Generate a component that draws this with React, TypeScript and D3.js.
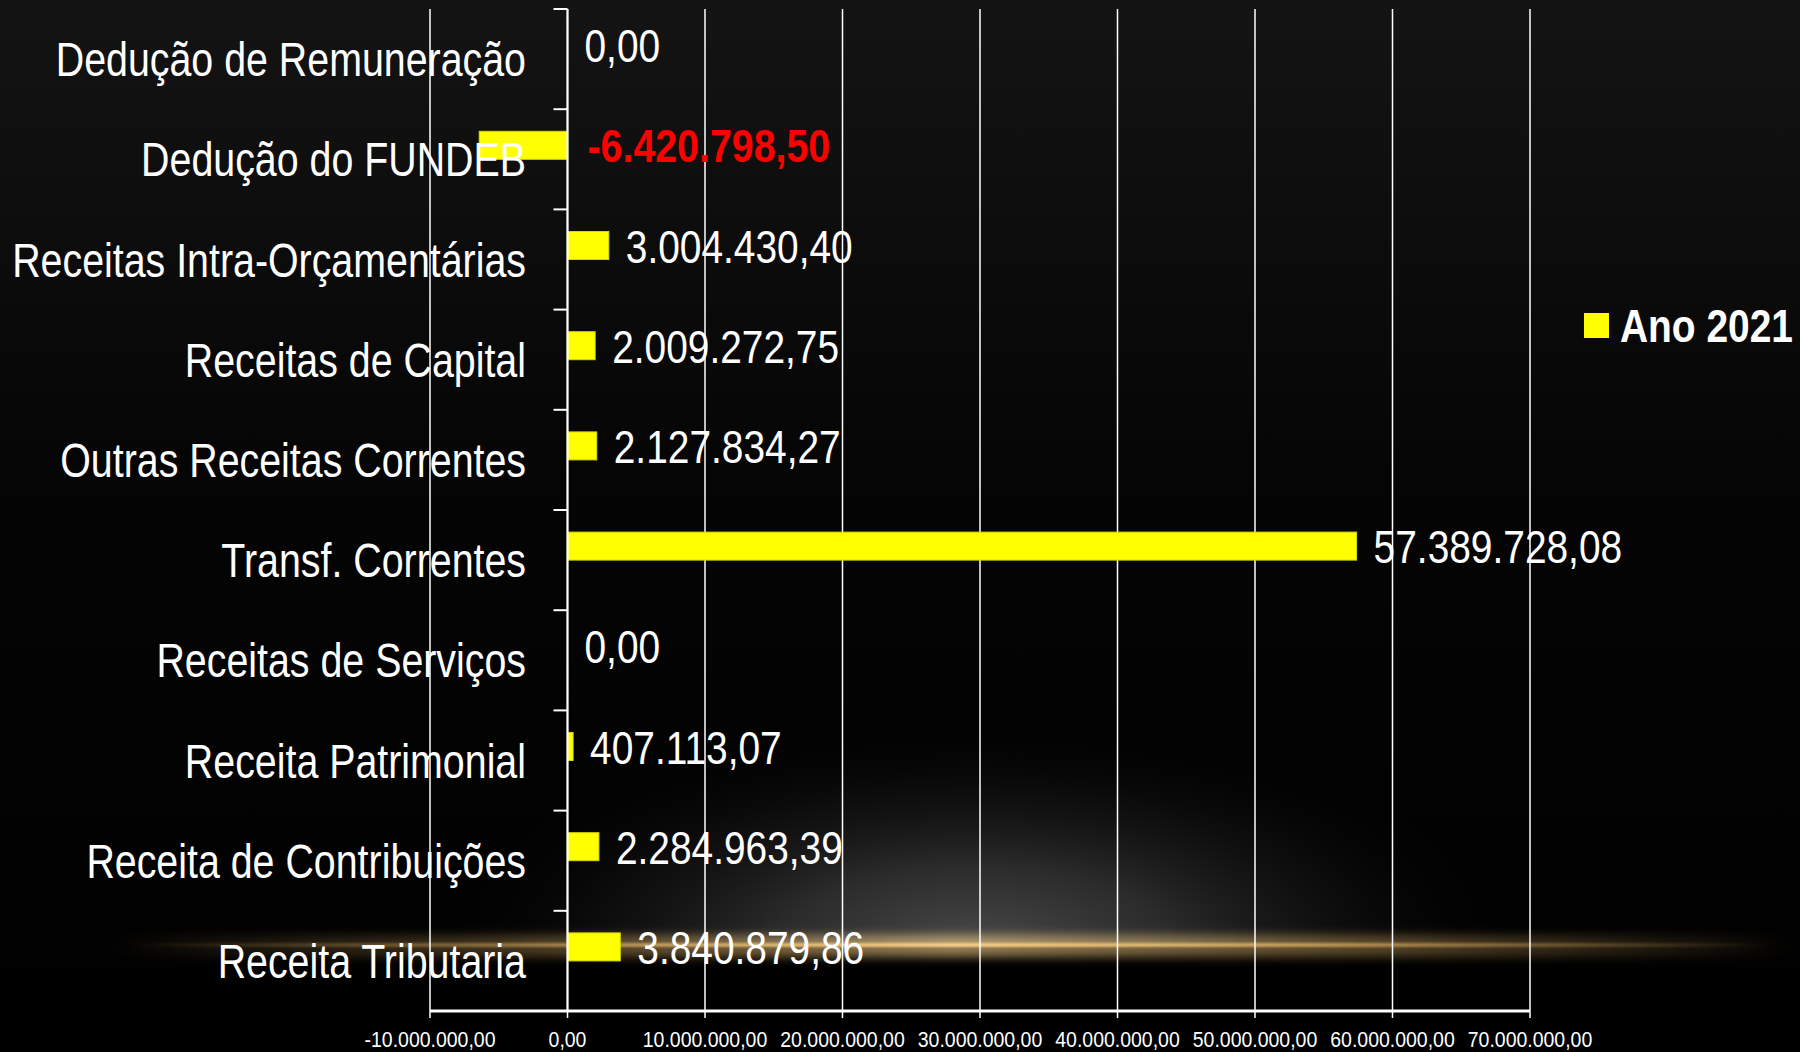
import React, { useEffect } from "react";
import * as d3 from "d3";

const categories = [
  "Dedução de Remuneração",
  "Dedução do FUNDEB",
  "Receitas Intra-Orçamentárias",
  "Receitas de Capital",
  "Outras Receitas Correntes",
  "Transf. Correntes",
  "Receitas de Serviços",
  "Receita Patrimonial",
  "Receita de Contribuições",
  "Receita Tributaria",
];
const values2021 = [
  0, -6420798.5, 3004430.4, 2009272.75, 2127834.27, 57389728.08, 0, 407113.07,
  2284963.39, 3840879.86,
];
const tickValues = [
  -10000000, 0, 10000000, 20000000, 30000000, 40000000, 50000000, 60000000,
  70000000,
];
const seriesName = "Ano 2021";

const W = 1800;
const H = 1052;
const FONT = "'Liberation Sans', Arial, Helvetica, sans-serif";

const locale = d3.formatLocale({
  decimal: ",",
  thousands: ".",
  grouping: [3],
  currency: ["R$", ""],
  minus: "-",
});
const fmt = locale.format(",.2f");

function NText(props: {
  x: number;
  y: number;
  sx: number;
  size: number;
  anchor?: string;
  fill?: string;
  weight?: string;
  children: React.ReactNode;
}) {
  const { x, y, sx, size, anchor = "start", fill = "#fff", weight = "normal", children } = props;
  return (
    <text
      transform={`translate(${x},${y}) scale(${sx},1)`}
      x={0}
      y={0}
      textAnchor={anchor}
      fill={fill}
      fontWeight={weight}
      fontFamily={FONT}
      fontSize={size}
    >
      {children}
    </text>
  );
}

export default function App() {
  useEffect(() => {
    document.body.style.margin = "0";
    document.body.style.background = "#000";
  }, []);

  const x = d3.scaleLinear().domain([-10000000, 70000000]).range([430, 1530]);
  const y = d3.scaleBand<string>().domain(categories).range([9, 1011]).padding(0);
  const barH = 28;
  const barOffset = -14;
  const top = 9;
  const bottom = 1011;
  const x0 = x(0);
  const bandEdges = categories.map((c) => y(c) as number).concat([bottom]);

  return (
    <svg width={W} height={H} style={{ display: "block" }}>
      <defs>
        <linearGradient id="bg" x1="0" y1="0" x2="0" y2="1">
          <stop offset="0" stopColor="#141414" />
          <stop offset="0.45" stopColor="#050505" />
          <stop offset="1" stopColor="#000000" />
        </linearGradient>
        <radialGradient id="glow" cx="0.5" cy="0.5" r="0.5" gradientUnits="objectBoundingBox">
          <stop offset="0" stopColor="#4a4a4a" stopOpacity="1" />
          <stop offset="0.35" stopColor="#333" stopOpacity="0.85" />
          <stop offset="0.7" stopColor="#1a1a1a" stopOpacity="0.4" />
          <stop offset="1" stopColor="#000" stopOpacity="0" />
        </radialGradient>
        <linearGradient id="streak" x1="0" y1="0" x2="1" y2="0">
          <stop offset="0" stopColor="#e8b868" stopOpacity="0" />
          <stop offset="0.25" stopColor="#e8b868" stopOpacity="0.5" />
          <stop offset="0.5" stopColor="#f4cf88" stopOpacity="1" />
          <stop offset="0.75" stopColor="#e8b868" stopOpacity="0.6" />
          <stop offset="1" stopColor="#e8b868" stopOpacity="0" />
        </linearGradient>
        <filter id="blur6" x="-10%" y="-200%" width="120%" height="500%">
          <feGaussianBlur stdDeviation="5" />
        </filter>
        <filter id="blur1" x="-10%" y="-200%" width="120%" height="500%">
          <feGaussianBlur stdDeviation="1" />
        </filter>
        <clipPath id="above">
          <rect x={0} y={0} width={W} height={946} />
        </clipPath>
      </defs>

      <rect x={0} y={0} width={W} height={H} fill="url(#bg)" />
      <g clipPath="url(#above)">
        <rect x={420} y={720} width={1110} height={452} fill="url(#glow)" />
      </g>
      <rect x={100} y={935} width={1700} height={22} fill="url(#streak)" opacity={0.6} filter="url(#blur6)" />
      <rect x={130} y={943} width={1640} height={4} fill="url(#streak)" filter="url(#blur1)" />

      {/* gridlines */}
      {tickValues.map((t) => (
        <line key={"g" + t} x1={x(t)} x2={x(t)} y1={top} y2={bottom} stroke="#fff" strokeWidth={1.5} />
      ))}

      {/* bars */}
      {categories.map((c, i) => {
        const v = values2021[i];
        const cy = (y(c) as number) + y.bandwidth() / 2 + barOffset;
        return (
          <rect
            key={"b" + c}
            x={Math.min(x(v), x0)}
            y={cy - barH / 2}
            width={Math.abs(x(v) - x0)}
            height={barH}
            fill="#ffff00"
            stroke="#d8d800"
            strokeWidth={v === 0 ? 0 : 1}
          />
        );
      })}

      {/* vertical axis */}
      <line x1={x0} x2={x0} y1={top} y2={bottom} stroke="#fff" strokeWidth={2} />
      {bandEdges.map((e, i) => (
        <line key={"yt" + i} x1={x0 - 14} x2={x0} y1={e} y2={e} stroke="#fff" strokeWidth={2} />
      ))}

      {/* x axis */}
      <line x1={x(-10000000)} x2={x(70000000)} y1={bottom} y2={bottom} stroke="#fff" strokeWidth={3} />
      {tickValues.map((t) => (
        <line key={"xt" + t} x1={x(t)} x2={x(t)} y1={bottom} y2={bottom + 7} stroke="#fff" strokeWidth={1.5} />
      ))}
      {tickValues.map((t) => (
        <NText key={"xl" + t} x={x(t)} y={1047} sx={0.885} size={22} anchor="middle">
          {fmt(t)}
        </NText>
      ))}

      {/* category labels */}
      {categories.map((c) => (
        <NText
          key={"cl" + c}
          x={526}
          y={(y(c) as number) + y.bandwidth() / 2 + 17}
          sx={0.82}
          size={48}
          anchor="end"
        >
          {c}
        </NText>
      ))}

      {/* value labels */}
      {categories.map((c, i) => {
        const v = values2021[i];
        const cy = (y(c) as number) + y.bandwidth() / 2 + barOffset;
        const neg = v < 0;
        return (
          <NText
            key={"vl" + c}
            x={Math.max(x(v), x0) + (neg ? 20 : 17)}
            y={cy + 17}
            sx={neg ? 0.855 : 0.845}
            size={46}
            fill={neg ? "#ff0000" : "#fff"}
            weight={neg ? "bold" : "normal"}
          >
            {fmt(v)}
          </NText>
        );
      })}

      {/* legend */}
      <rect x={1584} y={313} width={25} height={25} fill="#ffff00" />
      <NText x={1620} y={342} sx={0.828} size={47} weight="bold">
        {seriesName}
      </NText>
    </svg>
  );
}
